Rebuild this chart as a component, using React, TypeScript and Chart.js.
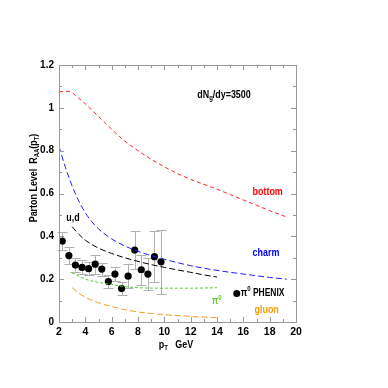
import React, { useEffect, useRef } from 'react';
import { Chart, registerables } from 'chart.js';
Chart.register(...registerables);

const bottomX = [2, 2.7, 3, 3.5, 4, 5, 6, 7, 8, 9, 10, 11, 12, 13, 14, 15, 16, 17, 18, 19.3];
const bottomY = [1.075, 1.077, 1.07, 1.045, 1.018, 0.96, 0.9, 0.845, 0.8, 0.76, 0.725, 0.693, 0.666, 0.643, 0.62, 0.595, 0.57, 0.545, 0.52, 0.49];

const charmX = [2, 2.5, 3, 3.5, 4, 4.5, 5, 6, 7, 8, 9, 10, 11, 12, 13, 14, 15, 16, 17, 18, 19.3];
const charmY = [0.82, 0.72, 0.635, 0.565, 0.51, 0.468, 0.435, 0.388, 0.355, 0.33, 0.31, 0.293, 0.277, 0.263, 0.251, 0.241, 0.232, 0.224, 0.216, 0.208, 0.2];

const udX = [3, 3.5, 4, 5, 6, 7, 8, 9, 10, 11, 12, 13, 14];
const udY = [0.445, 0.41, 0.382, 0.345, 0.32, 0.3, 0.283, 0.268, 0.255, 0.243, 0.232, 0.22, 0.21];

const pionX = [3, 4, 5, 6, 7, 8, 10, 12, 14];
const pionY = [0.23, 0.2, 0.185, 0.175, 0.165, 0.16, 0.158, 0.158, 0.16];

const gluonX = [3, 3.5, 4, 5, 6, 7, 8, 9, 10, 11, 12, 13, 14];
const gluonY = [0.16, 0.135, 0.115, 0.09, 0.072, 0.058, 0.047, 0.04, 0.034, 0.03, 0.026, 0.023, 0.02];

const phenixX = [2.25, 2.75, 3.25, 3.75, 4.25, 4.75, 5.25, 5.75, 6.25, 6.75, 7.25, 7.75, 8.25, 8.75, 9.25, 9.75];
const phenixY = [0.378, 0.31, 0.266, 0.255, 0.249, 0.27, 0.247, 0.189, 0.224, 0.156, 0.214, 0.336, 0.244, 0.224, 0.305, 0.281];
const phenixErr = [0.043, 0.038, 0.032, 0.033, 0.03, 0.045, 0.03, 0.03, 0.033, 0.03, 0.055, 0.09, 0.07, 0.075, 0.12, 0.15];

const xTicks = [2, 4, 6, 8, 10, 12, 14, 16, 18, 20];
const yTicks = [0, 0.2, 0.4, 0.6, 0.8, 1, 1.2];

const FONT = "'Liberation Sans', Arial, sans-serif";
const SX = 0.85;

type Part = { t: string; s?: 'sub' | 'sup' };

function measureParts(ctx: CanvasRenderingContext2D, parts: Part[], size: number) {
  let w = 0;
  ctx.save();
  for (const p of parts) {
    const fs = p.s ? Math.round(size * 0.65) : size;
    ctx.font = `bold ${fs}px ${FONT}`;
    w += ctx.measureText(p.t).width;
  }
  ctx.restore();
  return w * SX;
}

function drawSub(ctx: CanvasRenderingContext2D, parts: Part[], x: number, y: number, size: number, color: string) {
  ctx.save();
  ctx.translate(x, y);
  ctx.scale(SX, 1);
  ctx.fillStyle = color;
  ctx.textBaseline = 'middle';
  ctx.textAlign = 'left';
  let cx = 0;
  for (const p of parts) {
    const fs = p.s ? Math.round(size * 0.65) : size;
    ctx.font = `bold ${fs}px ${FONT}`;
    const dy = p.s === 'sub' ? size * 0.3 : p.s === 'sup' ? -size * 0.4 : 0;
    ctx.fillText(p.t, cx, dy);
    cx += ctx.measureText(p.t).width;
  }
  ctx.restore();
}

const pts = (xs: number[], ys: number[]) => xs.map((x, i) => ({ x, y: ys[i] }));

const decorPlugin = {
  id: 'decor',
  beforeDatasetsDraw(chart: any) {
    const { ctx, scales } = chart;
    const xs = scales.x, ys = scales.y;
    ctx.save();
    ctx.strokeStyle = '#b0b0b0';
    ctx.lineWidth = 1;
    phenixX.forEach((xv, i) => {
      const px = Math.round(xs.getPixelForValue(xv)) + 0.5;
      const top = Math.round(ys.getPixelForValue(phenixY[i] + phenixErr[i])) + 0.5;
      const bot = Math.round(ys.getPixelForValue(phenixY[i] - phenixErr[i])) + 0.5;
      ctx.beginPath();
      ctx.moveTo(px, top); ctx.lineTo(px, bot);
      ctx.moveTo(px - 5, top); ctx.lineTo(px + 5, top);
      ctx.moveTo(px - 5, bot); ctx.lineTo(px + 5, bot);
      ctx.stroke();
    });
    ctx.restore();
  },
  afterDraw(chart: any) {
    const { ctx, chartArea: a, scales } = chart;
    const xs = scales.x, ys = scales.y;
    ctx.save();
    ctx.strokeStyle = '#999';
    ctx.lineWidth = 1;
    ctx.strokeRect(Math.round(a.left) + 0.5, Math.round(a.top) + 0.5, Math.round(a.right - a.left), Math.round(a.bottom - a.top));
    ctx.beginPath();
    for (let v = 2; v <= 20; v += 1) {
      const px = Math.round(xs.getPixelForValue(v)) + 0.5;
      const len = v % 2 === 0 ? 5 : 3;
      ctx.moveTo(px, a.bottom); ctx.lineTo(px, a.bottom - len);
      ctx.moveTo(px, a.top); ctx.lineTo(px, a.top + len);
    }
    for (let k = 0; k <= 12; k++) {
      const v = k / 10;
      const py = Math.round(ys.getPixelForValue(v)) + 0.5;
      const len = k % 2 === 0 ? 5 : 3;
      ctx.moveTo(a.left, py); ctx.lineTo(a.left + len, py);
      ctx.moveTo(a.right, py); ctx.lineTo(a.right - len, py);
    }
    ctx.stroke();
    ctx.restore();

    const X = (v: number) => xs.getPixelForValue(v);
    const Y = (v: number) => ys.getPixelForValue(v);

    drawSub(ctx, [{ t: 'dN' }, { t: 'g', s: 'sub' }, { t: '/dy=3500' }], X(12.5), Y(1.06), 10.5, '#000');
    drawSub(ctx, [{ t: 'bottom' }], X(16.7), Y(0.607), 10.5, '#ff0000');
    drawSub(ctx, [{ t: 'charm' }], X(16.7), Y(0.32), 10.5, '#0000ff');
    drawSub(ctx, [{ t: 'gluon' }], X(16.85), Y(0.055), 10.5, '#ff9900');
    drawSub(ctx, [{ t: 'u,d' }], X(2.56), Y(0.486), 10.5, '#000');
    drawSub(ctx, [{ t: 'π' }, { t: '0', s: 'sup' }], X(13.6), Y(0.095), 10, '#66cc33');

    ctx.save();
    ctx.fillStyle = '#000';
    ctx.beginPath();
    ctx.arc(X(15.5), Y(0.133), 3.5, 0, Math.PI * 2);
    ctx.fill();
    ctx.restore();
    drawSub(ctx, [{ t: 'π' }, { t: '0', s: 'sup' }, { t: ' PHENIX' }], X(15.8), Y(0.133), 10, '#000');

    const xParts: Part[] = [{ t: 'p' }, { t: 'T', s: 'sub' }, { t: '   GeV' }];
    const xw = measureParts(ctx, xParts, 10.5);
    drawSub(ctx, xParts, 176 - xw / 2, 345, 10.5, '#000');

    const yParts: Part[] = [{ t: 'Parton Level  R' }, { t: 'AA', s: 'sub' }, { t: '(p' }, { t: 'T', s: 'sub' }, { t: ')' }];
    const yw = measureParts(ctx, yParts, 10.5);
    ctx.save();
    ctx.translate(34, 178);
    ctx.rotate(-Math.PI / 2);
    drawSub(ctx, yParts, -yw / 2, 0, 10.5, '#000');
    ctx.restore();
  },
};

export default function App() {
  const ref = useRef<HTMLCanvasElement>(null);
  useEffect(() => {
    if (!ref.current) return;
    const lineDs = (label: string, data: any[], color: string, dash: number[]) => ({
      label, data, borderColor: color, borderWidth: 1, borderDash: dash, pointRadius: 0, fill: false, cubicInterpolationMode: 'monotone',
    });
    const chart = new Chart(ref.current, {
      type: 'line',
      data: {
        datasets: [
          lineDs('bottom', pts(bottomX, bottomY), '#ff2020', [4, 3]),
          lineDs('charm', pts(charmX, charmY), '#2020ff', [6, 3]),
          lineDs('u,d', pts(udX, udY), '#000000', [6, 3]),
          lineDs('pi0', pts(pionX, pionY), '#55cc33', [3, 2]),
          lineDs('gluon', pts(gluonX, gluonY), '#ff9922', [6, 3]),
          {
            label: 'PHENIX', data: pts(phenixX, phenixY), showLine: false,
            pointRadius: 3.6, pointBorderWidth: 0, pointBackgroundColor: '#000', pointBorderColor: '#000', borderColor: '#000', backgroundColor: '#000',
          } as any,
        ],
      },
      options: {
        responsive: false,
        animation: false,
        events: [],
        layout: { padding: { left: 9, right: 92, top: 65, bottom: 36 } },
        plugins: { legend: { display: false }, tooltip: { enabled: false } },
        scales: {
          x: {
            type: 'linear', min: 2, max: 20,
            afterFit: (s: any) => { s.height = 30; },
            afterBuildTicks: (s: any) => { s.ticks = xTicks.map((v) => ({ value: v })); },
            ticks: { font: { family: FONT, size: 10.5, weight: 'bold' }, color: '#000', padding: 4, maxRotation: 0, callback: (v: any) => String(v) },
            grid: { display: false, drawTicks: false },
            border: { display: false },
          },
          y: {
            type: 'linear', min: 0, max: 1.2,
            afterFit: (s: any) => { s.width = 50; },
            afterBuildTicks: (s: any) => { s.ticks = yTicks.map((v) => ({ value: v })); },
            ticks: { font: { family: FONT, size: 10, weight: 'bold' }, color: '#000', padding: 5, callback: (v: any) => String(Math.round(v * 10) / 10) },
            grid: { display: false, drawTicks: false },
            border: { display: false },
          },
        },
      },
      plugins: [decorPlugin],
    });
    return () => chart.destroy();
  }, []);
  return (
    <div style={{ position: 'fixed', left: 0, top: 0, width: 388, height: 388, background: '#fff' }}>
      <canvas ref={ref} width={388} height={388} />
    </div>
  );
}
